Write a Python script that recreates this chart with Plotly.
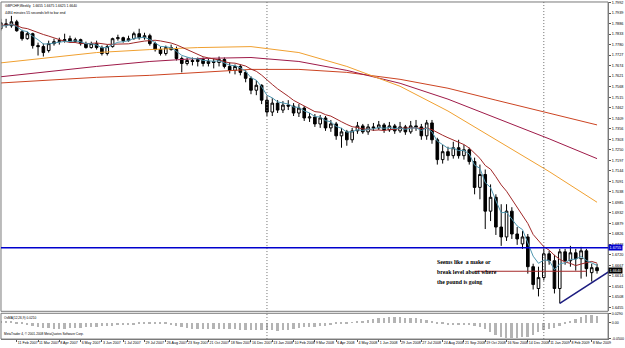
import pandas as pd
import plotly.graph_objects as go

symbol = "GBPCHF,Weekly"
timer_text = "4484 minutes 55 seconds left to bar end"
first_bar = "2007-01-14"

open_ = [1.7850,1.7860,1.7885,1.7875,1.7895,1.7845,1.7810,1.7835,1.7775,1.7770,
         1.7750,1.7785,1.7795,1.7800,1.7810,1.7795,1.7805,1.7785,1.7765,1.7785,
         1.7765,1.7735,1.7770,1.7810,1.7815,1.7800,1.7810,1.7835,1.7815,1.7825,
         1.7785,1.7755,1.7735,1.7765,1.7755,1.7710,1.7685,1.7700,1.7695,1.7705,
         1.7685,1.7695,1.7690,1.7705,1.7670,1.7650,1.7670,1.7640,1.7610,1.7550,
         1.7575,1.7500,1.7440,1.7485,1.7450,1.7475,1.7470,1.7435,1.7460,1.7410,
         1.7415,1.7380,1.7410,1.7360,1.7380,1.7320,1.7340,1.7300,1.7345,1.7370,
         1.7340,1.7365,1.7360,1.7375,1.7350,1.7370,1.7345,1.7365,1.7340,1.7370,
         1.7365,1.7320,1.7385,1.7300,1.7200,1.7240,1.7220,1.7260,1.7220,1.7250,
         1.7190,1.7060,1.7125,1.6940,1.7010,1.6860,1.6810,1.6940,1.6825,1.6775,
         1.6810,1.6660,1.6550,1.6605,1.6725,1.6690,1.6550,1.6735,1.6690,1.6730,
         1.6700,1.6740,1.6630,1.6655]
high = [1.7880,1.7910,1.7910,1.7925,1.7905,1.7855,1.7845,1.7840,1.7790,1.7785,
        1.7800,1.7810,1.7815,1.7835,1.7825,1.7815,1.7810,1.7795,1.7795,1.7800,
        1.7775,1.7780,1.7815,1.7830,1.7820,1.7825,1.7845,1.7860,1.7840,1.7835,
        1.7795,1.7770,1.7775,1.7780,1.7770,1.7720,1.7715,1.7715,1.7715,1.7715,
        1.7710,1.7710,1.7720,1.7715,1.7690,1.7680,1.7680,1.7650,1.7620,1.7600,
        1.7580,1.7520,1.7510,1.7500,1.7495,1.7500,1.7485,1.7480,1.7470,1.7435,
        1.7430,1.7425,1.7420,1.7400,1.7390,1.7360,1.7350,1.7360,1.7390,1.7380,
        1.7380,1.7385,1.7395,1.7385,1.7390,1.7380,1.7390,1.7375,1.7395,1.7400,
        1.7380,1.7400,1.7400,1.7310,1.7275,1.7265,1.7290,1.7300,1.7275,1.7260,
        1.7210,1.7175,1.7150,1.7075,1.7025,1.6975,1.6975,1.6960,1.6860,1.6840,
        1.6825,1.6675,1.6660,1.6750,1.6740,1.6720,1.6750,1.6750,1.6765,1.6750,
        1.6760,1.6750,1.6675,1.6675]
low = [1.7835,1.7850,1.7865,1.7865,1.7845,1.7800,1.7805,1.7760,1.7725,1.7720,
       1.7740,1.7775,1.7780,1.7790,1.7790,1.7790,1.7775,1.7760,1.7760,1.7755,
       1.7725,1.7725,1.7765,1.7800,1.7790,1.7795,1.7805,1.7805,1.7805,1.7775,
       1.7745,1.7725,1.7725,1.7750,1.7700,1.7640,1.7675,1.7675,1.7670,1.7670,
       1.7670,1.7660,1.7670,1.7660,1.7635,1.7630,1.7625,1.7590,1.7530,1.7525,
       1.7480,1.7420,1.7420,1.7435,1.7435,1.7450,1.7420,1.7415,1.7395,1.7390,
       1.7365,1.7360,1.7345,1.7340,1.7300,1.7260,1.7270,1.7285,1.7330,1.7330,
       1.7325,1.7345,1.7350,1.7335,1.7340,1.7330,1.7335,1.7325,1.7330,1.7345,
       1.7300,1.7300,1.7280,1.7175,1.7180,1.7195,1.7205,1.7205,1.7200,1.7175,
       1.7025,1.7000,1.6850,1.6890,1.6820,1.6765,1.6790,1.6800,1.6770,1.6750,
       1.6625,1.6545,1.6510,1.6590,1.6670,1.6525,1.6475,1.6670,1.6660,1.6640,
       1.6600,1.6610,1.6585,1.6625]
close = [1.7865,1.7890,1.7880,1.7895,1.7850,1.7810,1.7835,1.7775,1.7770,1.7740,
         1.7785,1.7795,1.7800,1.7805,1.7795,1.7805,1.7785,1.7765,1.7785,1.7765,
         1.7735,1.7770,1.7810,1.7815,1.7800,1.7810,1.7835,1.7815,1.7825,1.7785,
         1.7755,1.7735,1.7765,1.7755,1.7710,1.7685,1.7700,1.7695,1.7705,1.7685,
         1.7695,1.7690,1.7705,1.7670,1.7650,1.7670,1.7640,1.7610,1.7550,1.7575,
         1.7500,1.7440,1.7485,1.7450,1.7475,1.7470,1.7435,1.7460,1.7410,1.7415,
         1.7380,1.7410,1.7360,1.7380,1.7320,1.7340,1.7300,1.7345,1.7370,1.7340,
         1.7365,1.7360,1.7375,1.7350,1.7370,1.7345,1.7365,1.7340,1.7370,1.7365,
         1.7320,1.7385,1.7300,1.7200,1.7240,1.7220,1.7260,1.7220,1.7250,1.7190,
         1.7060,1.7125,1.6940,1.7010,1.6860,1.6810,1.6940,1.6825,1.6800,1.6810,
         1.6660,1.6570,1.6605,1.6725,1.6690,1.6550,1.6735,1.6690,1.6730,1.6700,
         1.6740,1.6650,1.6655,1.6640]

# long moving averages at sample bars
ma_sample_idx = [0, 10, 19, 29, 38, 48, 57, 66, 76, 85, 94, 104, 113]
ma_orange = [1.7685, 1.7715, 1.7740, 1.7755, 1.7765, 1.7770, 1.7740, 1.7670, 1.7570, 1.7445, 1.7300, 1.7140, 1.6985]
ma_crimson = [1.7615, 1.7645, 1.7670, 1.7695, 1.7710, 1.7715, 1.7695, 1.7650, 1.7585, 1.7505, 1.7410, 1.7305, 1.7205]
ma_red = [1.7585, 1.7600, 1.7615, 1.7625, 1.7640, 1.7655, 1.7655, 1.7640, 1.7605, 1.7560, 1.7500, 1.7435, 1.7375]

osma = [0.006, 0.006, 0.0045, 0.003,
        -0.003, -0.006, -0.009, -0.012, -0.015, -0.018, -0.018, -0.021, -0.021, -0.021, -0.018, -0.018,
        -0.018, -0.015, -0.015, -0.015, -0.012, -0.012, -0.012, -0.009, -0.009, -0.009, -0.009,
        -0.006, -0.006, -0.006, -0.0045, -0.0045, -0.006, -0.009, -0.012,
        -0.015, -0.018, -0.021, -0.021, -0.021, -0.021, -0.021, -0.021, -0.021, -0.021, -0.021,
        -0.024, -0.024, -0.024, -0.024, -0.024,
        -0.024, -0.024, -0.027, -0.024, -0.024, -0.021,
        -0.018, -0.015, -0.015, -0.015, -0.012, -0.012, -0.009,
        -0.006, -0.003, -0.003, 0.0015, 0.003, 0.006,
        0.009, 0.012, 0.015, 0.015, 0.018, 0.018, 0.018, 0.015, 0.015, 0.015, 0.012, 0.009,
        0.006, -0.003, -0.006, -0.009, -0.009, -0.009, -0.009, -0.009, -0.012, -0.015, -0.021,
        -0.030, -0.039, -0.045, -0.051, -0.051, -0.048, -0.045, -0.045, -0.039,
        -0.030, -0.024, -0.021, -0.018, -0.012,
        -0.003, 0.003,
        0.012, 0.018, 0.024, 0.024, 0.021]

blue_level = 1.6755
red_level = 1.6637
red_level_bars = [90, 111]
trend_dates = ["2009-01-25", "2009-03-31"]
trend_prices = [1.6475, 1.6636]
separator_dates = ["2008-01-06", "2009-01-04"]
note_lines = ["Seems like  a make or", "break level about where", "the pound is going"]
note_prices = [1.6686, 1.6631, 1.6581]
note_date = "2008-08-14"

# ---------------------------------------------------------------
dates = pd.date_range(first_bar, periods=len(close), freq="7D")
cs = pd.Series(close)
ema_fast = cs.ewm(span=5, adjust=False).mean()
sma_mid = cs.rolling(10, min_periods=1).mean()
ma_dates = [dates[i] for i in ma_sample_idx]

W, H = 625, 348
X0, X1 = 1 / W, 611 / W
Y_MAIN = [(H - 313) / H, (H - 1) / H]
Y_IND = [(H - 341) / H, (H - 315) / H]
xr = [dates[0] + pd.Timedelta(days=7.3), dates[-1] + pd.Timedelta(days=14.5)]

fig = go.Figure()
fig.add_trace(go.Candlestick(
    x=dates, open=open_, high=high, low=low, close=close,
    increasing=dict(line=dict(color="black", width=1), fillcolor="white"),
    decreasing=dict(line=dict(color="black", width=1), fillcolor="black"),
    whiskerwidth=0, hoverinfo="none", showlegend=False, xaxis="x", yaxis="y"))
for vals, col, xs in [(ma_red, "#cc4422", ma_dates), (ma_crimson, "#9e1a48", ma_dates),
                      (ma_orange, "#f0a030", ma_dates),
                      (list(sma_mid), "#a02828", dates), (list(ema_fast), "#4f97b0", dates)]:
    fig.add_trace(go.Scatter(x=xs, y=vals, mode="lines", line=dict(color=col, width=1),
                             hoverinfo="none", showlegend=False, xaxis="x", yaxis="y"))
fig.add_trace(go.Bar(x=dates, y=osma, marker=dict(color="#b4b4b4", line=dict(width=0)),
                     width=2.4 * 86400000, hoverinfo="none", showlegend=False,
                     xaxis="x2", yaxis="y2"))

shapes = []
for yd in (Y_MAIN, Y_IND):
    shapes.append(dict(type="rect", xref="paper", yref="paper", x0=X0, x1=X1, y0=yd[0], y1=yd[1],
                       line=dict(color="#7a7a7a", width=1), layer="above"))
for d in separator_dates:
    shapes.append(dict(type="line", xref="x", yref="paper", x0=d, x1=d, y0=Y_IND[0], y1=Y_MAIN[1],
                       line=dict(color="#707070", width=1, dash="1px,2px")))
shapes.append(dict(type="line", xref="paper", yref="y", x0=X0, x1=X1, y0=blue_level, y1=blue_level,
                   line=dict(color="#0000cd", width=1.5)))
shapes.append(dict(type="line", xref="x", yref="y", x0=dates[red_level_bars[0]], x1=dates[red_level_bars[1]],
                   y0=red_level, y1=red_level, line=dict(color="#a52a2a", width=1)))
shapes.append(dict(type="line", xref="x", yref="y", x0=trend_dates[0], x1=trend_dates[1],
                   y0=trend_prices[0], y1=trend_prices[1], line=dict(color="#1c1c80", width=1.5)))

small = dict(family="Liberation Sans", color="black")
ann = [
    dict(xref="paper", yref="paper", x=0.005, y=0.997, xanchor="left", yanchor="top", showarrow=False,
         text=f"{symbol}  {open_[-1]:.4f} {high[-1]:.4f} {low[-1]:.4f} {close[-1]:.4f}",
         font=dict(size=3.4, **small)),
    dict(xref="paper", yref="paper", x=0.005, y=0.978, xanchor="left", yanchor="top", showarrow=False,
         text=timer_text, font=dict(size=3.4, **small)),
    dict(xref="paper", yref="paper", x=0.004, y=Y_IND[1] - 0.002, xanchor="left", yanchor="top",
         showarrow=False, text=f"OsMA(12,26,9) {osma[-1]:.4f}", font=dict(size=3.2, **small)),
    dict(xref="paper", yref="paper", x=0.004, y=Y_IND[0] + 0.002, xanchor="left", yanchor="bottom",
         showarrow=False, text="MetaTrader 4, © 2001-2008 MetaQuotes Software Corp.",
         font=dict(size=3.2, **small)),
    dict(xref="paper", yref="y", x=X1, y=blue_level, xanchor="left", yanchor="middle", showarrow=False,
         text=f"{blue_level:.4f}", bgcolor="#0000cd", borderpad=0.5,
         font=dict(size=3.8, family="Liberation Sans", color="white")),
    dict(xref="paper", yref="y", x=X1, y=close[-1], xanchor="left", yanchor="middle", showarrow=False,
         text=f"{close[-1]:.4f}", bgcolor="black", borderpad=0.5,
         font=dict(size=3.8, family="Liberation Sans", color="white")),
]
for txt, p in zip(note_lines, note_prices):
    ann.append(dict(xref="x", yref="y", x=note_date, y=p, xanchor="left", yanchor="middle",
                    showarrow=False, text=f"<b>{txt}</b>",
                    font=dict(size=5.8, family="Liberation Serif", color="black")))

tick_idx = list(range(0, len(dates), 4))
fig.update_layout(
    width=W, height=H, margin=dict(l=0, r=0, t=0, b=0),
    paper_bgcolor="white", plot_bgcolor="white", showlegend=False, hovermode=False,
    bargap=0, shapes=shapes, annotations=ann,
    xaxis=dict(domain=[X0, X1], anchor="y", range=xr, showticklabels=False, showgrid=False,
               zeroline=False, rangeslider=dict(visible=False), type="date"),
    yaxis=dict(domain=Y_MAIN, anchor="x", side="right", range=[1.6435, 1.7995], showgrid=False,
               zeroline=False, showline=True, linecolor="#7a7a7a", ticks="outside", ticklen=2,
               tickcolor="#555555", tick0=1.6455, dtick=0.0053, tickformat=".4f",
               tickfont=dict(size=3.8, family="Liberation Sans", color="black")),
    xaxis2=dict(domain=[X0, X1], anchor="y2", matches="x", range=xr, type="date", showgrid=False,
                zeroline=False, showline=True, linecolor="#7a7a7a", ticks="outside", ticklen=2,
                tickcolor="#555555", tickvals=[dates[i] for i in tick_idx],
                ticktext=[f"{dates[i].day} {dates[i]:%b %Y}" for i in tick_idx],
                ticklabelposition="outside right", tickangle=0,
                tickfont=dict(size=3.6, family="Liberation Sans", color="black")),
    yaxis2=dict(domain=Y_IND, anchor="x2", side="right", range=[-0.052, 0.031], showgrid=False,
                zeroline=False, showline=True, linecolor="#7a7a7a", ticks="outside", ticklen=2,
                tickcolor="#555555", tickvals=[0.0290, 0.0, -0.0500],
                ticktext=["0.0290", "0.00", "-0.0500"],
                tickfont=dict(size=3.6, family="Liberation Sans", color="black")),
)
fig.write_html("out.html")
